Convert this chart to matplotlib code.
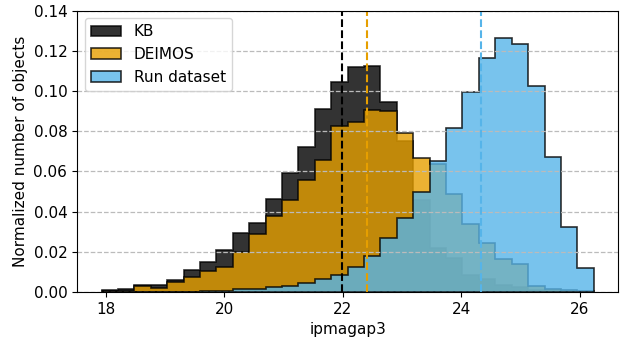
import numpy as np
import matplotlib
matplotlib.use("Agg")
import matplotlib.pyplot as plt

# Common bin edges (30 bins)
edges = np.linspace(17.926, 26.237, 31)

# Fraction of objects per bin
kb = [0.0008, 0.0013, 0.0033, 0.0036, 0.0060, 0.0110, 0.0149, 0.0209, 0.0292, 0.0342,
      0.0462, 0.0594, 0.0724, 0.0912, 0.1043, 0.1119, 0.1127, 0.0948, 0.0750, 0.0458,
      0.0218, 0.0168, 0.0085, 0.0065, 0.0035, 0.0027, 0.0010, 0.0005, 0.0002, 0.0]
deimos = [0.0003, 0.0006, 0.0030, 0.0021, 0.0052, 0.0076, 0.0106, 0.0123, 0.0201, 0.0287,
          0.0380, 0.0458, 0.0558, 0.0658, 0.0827, 0.0848, 0.0907, 0.0902, 0.0790, 0.0666,
          0.0638, 0.0490, 0.0340, 0.0243, 0.0163, 0.0138, 0.0028, 0.0014, 0.0010, 0.0003]
run = [0.0, 0.0, 0.0, 0.0, 0.0, 0.0002, 0.0004, 0.0007, 0.0013, 0.0017,
       0.0023, 0.0030, 0.0047, 0.0063, 0.0083, 0.0122, 0.0180, 0.0267, 0.0367, 0.0500,
       0.0654, 0.0815, 0.0993, 0.1166, 0.1264, 0.1235, 0.1023, 0.0674, 0.0325, 0.0118]

# Medians shown as dashed lines
medians = {"KB": 21.99, "DEIMOS": 22.40, "Run dataset": 24.33}
colors = {"KB": "k", "DEIMOS": "#E69F00", "Run dataset": "#56B4E9"}
series = {"KB": kb, "DEIMOS": deimos, "Run dataset": run}

fig = plt.figure(figsize=(6.28, 3.4), dpi=100)
ax = fig.add_axes([0.1226, 0.1412, 0.8620, 0.8273])

centers = 0.5 * (edges[:-1] + edges[1:])
for name, vals in series.items():
    ax.hist(centers, bins=edges, weights=vals, histtype="stepfilled",
            color=colors[name], edgecolor="k", alpha=0.8, lw=1.2, label=name)

for name, m in medians.items():
    ax.axvline(m, color=colors[name], ls="--", lw=1.5)

ax.set_ylim(0, 0.14)
ax.set_xticks([18, 20, 22, 24, 26])
ax.grid(axis="y", ls="--", color="#bbbbbb", lw=0.9)
ax.set_xlabel("ipmagap3", fontsize=11)
ax.set_ylabel("Normalized number of objects", fontsize=11)
ax.tick_params(labelsize=11)
ax.legend(loc="upper left", fontsize=11)

fig.savefig("out.png", dpi=100)
